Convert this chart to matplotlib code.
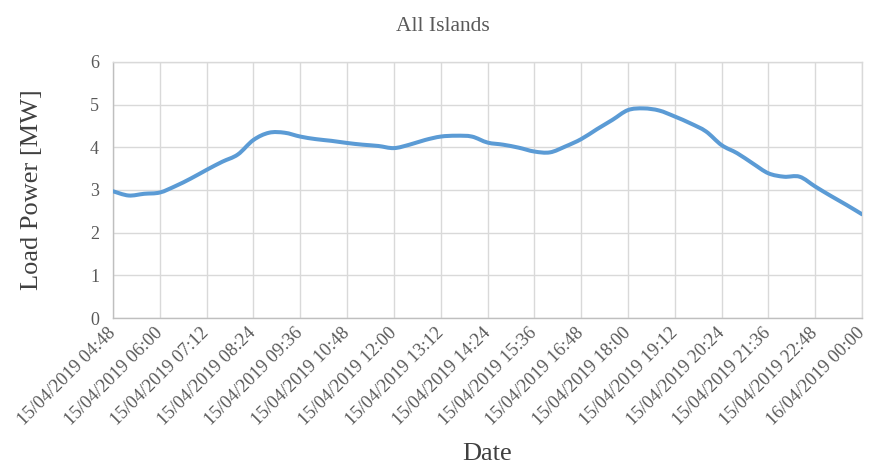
import pandas as pd
import numpy as np
import matplotlib
matplotlib.use('Agg')
import matplotlib.pyplot as plt
import matplotlib.dates as mdates
from matplotlib.path import Path
from matplotlib.patches import PathPatch

# =============================================================================
# DATOS (cada 24 minutos)
# =============================================================================

start = '2019-04-15 04:48'
end = '2019-04-16 00:00'

load_mw = [2.97, 2.87, 2.91, 2.94, 3.09, 3.27, 3.47, 3.66, 3.83, 4.17,
           4.34, 4.34, 4.25, 4.19, 4.15, 4.10, 4.06, 4.03, 3.98, 4.06,
           4.17, 4.25, 4.27, 4.25, 4.11, 4.06, 3.99, 3.90, 3.88, 4.02,
           4.19, 4.42, 4.64, 4.87, 4.91, 4.86, 4.72, 4.56, 4.37, 4.05,
           3.86, 3.62, 3.39, 3.31, 3.31, 3.08, 2.86, 2.65, 2.43]

times = pd.date_range(start, end, periods=len(load_mw))
tick_times = pd.date_range(start, end, freq='72min')


def smooth_path(x, y):
    # línea suavizada tipo Excel (Bezier cúbico, Catmull-Rom)
    x = np.asarray(x, float)
    y = np.asarray(y, float)
    verts = [(x[0], y[0])]
    codes = [Path.MOVETO]
    n = len(x)
    for i in range(n - 1):
        x0, y0 = (x[i - 1], y[i - 1]) if i > 0 else (x[i], y[i])
        x3, y3 = (x[i + 2], y[i + 2]) if i + 2 < n else (x[i + 1], y[i + 1])
        c1 = (x[i] + (x[i + 1] - x0) / 6, y[i] + (y[i + 1] - y0) / 6)
        c2 = (x[i + 1] - (x3 - x[i]) / 6, y[i + 1] - (y3 - y[i]) / 6)
        verts += [c1, c2, (x[i + 1], y[i + 1])]
        codes += [Path.CURVE4] * 3
    return Path(verts, codes)


# =============================================================================
# GRÁFICA
# =============================================================================

plt.rcParams['font.family'] = ['Liberation Serif', 'DejaVu Serif']

fig = plt.figure(figsize=(8.69, 4.65), dpi=100)
ax = fig.add_axes([0.130, 0.316, 0.862, 0.551])

xnum = mdates.date2num(times)
ax.add_patch(PathPatch(smooth_path(xnum, load_mw), facecolor='none',
                       edgecolor='#5B9BD5', linewidth=2.9,
                       joinstyle='round', capstyle='round', zorder=3))

ax.set_xlim(times[0], times[-1])
ax.set_ylim(0, 6)
ax.set_yticks(range(0, 7))
ax.set_xticks(tick_times)
ax.xaxis.set_major_formatter(mdates.DateFormatter('%d/%m/%Y %H:%M'))

ax.grid(True, color='#D9D9D9', linewidth=1.0)
ax.set_axisbelow(True)
for s in ax.spines.values():
    s.set_color('#D9D9D9')
    s.set_linewidth(1.0)
ax.spines['left'].set_color('#BFBFBF')
ax.spines['bottom'].set_color('#BFBFBF')

ax.tick_params(axis='both', length=0, colors='#595959')
ax.tick_params(axis='y', pad=10, labelsize=13)
ax.tick_params(axis='x', pad=9, labelsize=13.2)
for lbl in ax.get_xticklabels():
    lbl.set_rotation(45)
    lbl.set_ha('right')
    lbl.set_va('center')
    lbl.set_rotation_mode('anchor')

fig.text(0.51, 0.942, 'All Islands', fontsize=15.5, color='#595959',
         ha='center', va='center')
ax.set_ylabel('Load Power [MW]', fontsize=19, color='#404040')
ax.yaxis.set_label_coords(-0.094, 0.5)
fig.text(0.560, 0.024, 'Date', fontsize=19, color='#404040', ha='center', va='center')

plt.savefig('out.png', dpi=100, facecolor='white')
plt.close()
